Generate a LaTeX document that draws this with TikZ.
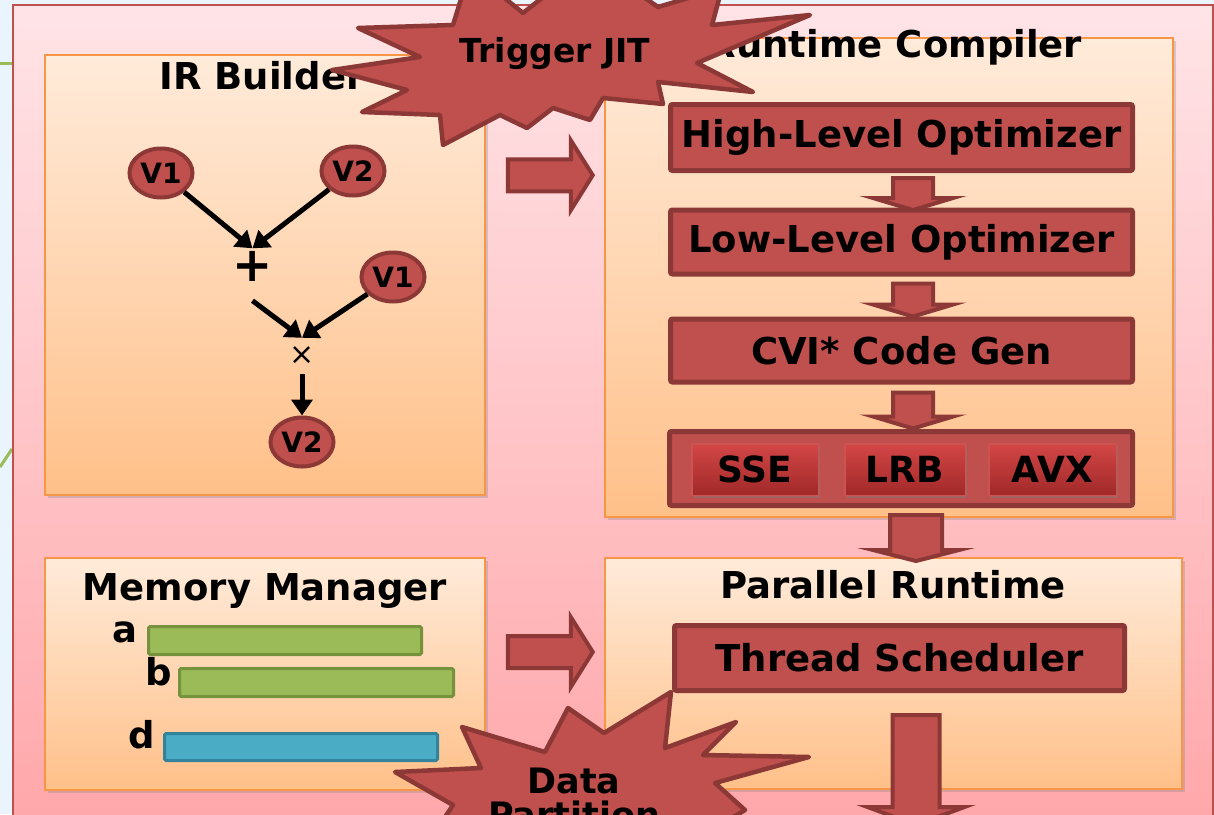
\documentclass[tikz,border=0pt]{standalone}
\usepackage{fontspec}
\setmainfont{DejaVu Sans}
\usetikzlibrary{shadows,arrows.meta,calc,shapes.geometric}

\definecolor{redfill}{HTML}{C0504D}
\definecolor{redline}{HTML}{8C3836}
\definecolor{panelline}{HTML}{F79646}
\definecolor{paneltop}{HTML}{FFEBDA}
\definecolor{panelbot}{HTML}{FFC089}
\definecolor{frametop}{HTML}{FFE4E7}
\definecolor{framebot}{HTML}{FFA6A9}
\definecolor{backdrop}{HTML}{E9F4FC}
\definecolor{memgreen}{HTML}{9BBB59}
\definecolor{memgreenline}{HTML}{76923C}
\definecolor{memblue}{HTML}{4BACC6}
\definecolor{membluelne}{HTML}{31849B}
\definecolor{btntop}{HTML}{D34646}
\definecolor{btnbot}{HTML}{A12929}
\definecolor{btnline}{HTML}{CD5352}

\tikzset{
  bigfont/.style={font=\fontsize{37}{40}\selectfont\bfseries},
  panel/.style={draw=panelline, line width=1.5pt, top color=paneltop,
    bottom color=panelbot, inner sep=0pt,
    drop shadow={opacity=0.3, shadow xshift=3pt, shadow yshift=-3pt}},
  paneltitle/.style={bigfont, anchor=base, inner sep=0pt},
  redbox/.style={draw=redline, line width=5pt, fill=redfill,
    rounded corners=2pt, inner sep=0pt, bigfont},
  btn/.style={draw=btnline, line width=1.5pt, top color=btntop,
    bottom color=btnbot, inner sep=0pt,
    font=\fontsize{36}{40}\selectfont\bfseries,
    drop shadow={opacity=0.45, shadow xshift=2pt, shadow yshift=-2.5pt}},
  valnode/.style={ellipse, draw=redline, line width=4pt, fill=redfill,
    minimum width=63pt, minimum height=49pt, inner sep=0pt,
    font=\fontsize{28}{30}\selectfont\bfseries},
  opnode/.style={inner sep=0pt, minimum width=36pt, minimum height=36pt},
  edge/.style={line width=5pt, -{Triangle[length=16pt,width=21pt]}},
  membar/.style={line width=3pt, rounded corners=1.5pt},
  memlabel/.style={bigfont, anchor=base, inner sep=0pt},
  blockarrow/.style={draw=redline, line width=4pt, fill=redfill,
    line join=miter},
  burst/.style={draw=redline, line width=4.5pt, fill=redfill,
    line join=round},
  pics/downblk/.style args={#1/#2/#3/#4}{code={
    \draw[blockarrow] (-#2,0) -- (#2,0) -- (#2,#1-#4) -- (#3,#1-#4)
      -- (0,#1) -- (-#3,#1-#4) -- (-#2,#1-#4) -- cycle;}},
  pics/rightblk/.style args={#1/#2/#3/#4}{code={
    \draw[blockarrow] (0,-#2) -- (#1-#4,-#2) -- (#1-#4,-#3) -- (#1,0)
      -- (#1-#4,#3) -- (#1-#4,#2) -- (0,#2) -- cycle;}},
}

\begin{document}
\begin{tikzpicture}[x=1pt,y=-1pt]
\useasboundingbox (0,0) rectangle (1214,814);
\clip (0,0) rectangle (1214,814);

% backdrop and the large frame
\fill[backdrop] (0,0) rectangle (1214,814);
\draw[memgreen, line width=3pt] (0,63) -- (12,63);
\draw[memgreen, line width=3pt] (0,467) -- (12,449);
\draw[redfill, line width=2pt, top color=frametop, bottom color=framebot]
  (12.5,5) rectangle (1213,840);

% the four panels
\node[panel, minimum width=440pt, minimum height=440pt] (irb) at (265,275) {};
\node[panel, minimum width=568pt, minimum height=479pt] (rtc) at (889,277.5) {};
\node[panel, minimum width=440pt, minimum height=232pt] (mem) at (265,674) {};
\node[panel, minimum width=577pt, minimum height=231pt] (prt) at (893.5,673.5) {};

\node[paneltitle] (irbT) at (262,89) {IR Builder};
\node[paneltitle] (rtcT) at (895,57) {Runtime Compiler};
\node[paneltitle] (memT) at (265,600) {Memory Manager};
\node[paneltitle] (prtT) at (893,598) {Parallel Runtime};

% IR expression graph
\node[valnode] (v1a) at (161,173) {V1};
\node[valnode] (v2a) at (353,171) {V2};
\node[valnode] (v1b) at (393,277) {V1};
\node[valnode] (v2b) at (302,442) {V2};
\node[opnode, font=\fontsize{48}{48}\selectfont\bfseries] (plus) at (252.5,266.5) {+};
\node[opnode, font=\fontsize{30}{30}\selectfont] (times) at (302,356) {×};
\draw[edge] (v1a) -- (plus.north);
\draw[edge] (v2a) -- (plus.north);
\draw[edge] ([yshift=-16pt]plus.south) -- (times.north);
\draw[edge] (v1b) -- (times.north);
\draw[edge] (times.south) -- (v2b);

% compiler stages
\node[redbox, minimum width=462pt, minimum height=66pt] (hlo) at (901.5,137.5) {High-Level Optimizer};
\node[redbox, minimum width=462pt, minimum height=64pt] (llo) at (901.5,242) {Low-Level Optimizer};
\node[redbox, minimum width=462pt, minimum height=63pt] (cvi) at (901.5,350.5) {CVI* Code Gen};
\node[redbox, minimum width=463pt, minimum height=74pt] (isa) at (901,468.5) {};
\node[btn, minimum width=126.5pt, minimum height=51.5pt] (sse) at (755,469.5) {SSE};
\node[btn, minimum width=120.5pt, minimum height=51.5pt] (lrb) at (905,469.5) {LRB};
\node[btn, minimum width=127.5pt, minimum height=51.5pt] (avx) at (1052.5,469.5) {AVX};

\node[redbox, minimum width=450pt, minimum height=65pt] (ts) at (899.5,658) {Thread Scheduler};

% memory buffers
\draw[membar, draw=memgreenline, fill=memgreen] (148.5,626.5) rectangle (421.5,654.5);
\draw[membar, draw=memgreenline, fill=memgreen] (179.5,668.5) rectangle (453.5,696.5);
\draw[membar, draw=membluelne, fill=memblue] (164.5,733.5) rectangle (437.5,760.5);
\node[memlabel] (la) at (125,642) {a};
\node[memlabel] (lb) at (159,685) {b};
\node[memlabel] (ld) at (142,748) {d};

% block arrows between the stages
\path (hlo.south) ++(11.5,5) pic {downblk=32/20/40/12};
\path (llo.south) ++(11.5,7) pic {downblk=33/20/40/12};
\path (cvi.south) ++(11.5,8) pic {downblk=36/20/40/12};
\path (isa.south) ++(15,7) pic {downblk=46/26/43/11};
\path (ts.south) ++(16.5,22) pic {downblk=110/23.5/48.5/18};
\path (irb.north east) ++(22,121) pic {rightblk=85/16/35/22};
\path (mem.east) ++(22,-22) pic {rightblk=85/16/35/22};

% event bursts
\draw[burst] (332,70) -- (420,57) -- (358,28) -- (453,25) -- (470,-30)
  -- (523,13) -- (590,-40) -- (658,7) -- (722,-12) -- (712,25)
  -- (810,15) -- (697,63) -- (753,92) -- (658,82) -- (663,104)
  -- (603,98) -- (590,120) -- (553,108) -- (527,128) -- (500,115)
  -- (443,145) -- (440,115) -- (362,112) -- (407,90) -- cycle;
\node[anchor=base, inner sep=0pt, font=\fontsize{33}{36}\selectfont\bfseries]
  (jit) at (555,62) {Trigger JIT};

\draw[burst] (395,772) -- (481,768) -- (462,727) -- (545,752) -- (568,708)
  -- (604,733) -- (671,692) -- (665,748) -- (736,722) -- (703,755)
  -- (809,757) -- (715,783) -- (745,810) -- (712,830) -- (600,860)
  -- (430,840) -- (453,805) -- cycle;
\node[anchor=base, inner sep=0pt, font=\fontsize{35}{38}\selectfont\bfseries]
  (dp1) at (574,793) {Data};
\node[anchor=base, inner sep=0pt, font=\fontsize{35}{38}\selectfont\bfseries]
  (dp2) at (574,827) {Partition};
\end{tikzpicture}
\end{document}
